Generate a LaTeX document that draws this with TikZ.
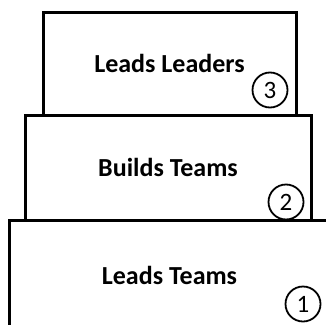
\documentclass[tikz,border=0pt]{standalone}
\usepackage{fontspec}
\setmainfont{Carlito}
\usetikzlibrary{positioning}

\begin{document}
\begin{tikzpicture}[
      x=1pt, y=-1pt,
      /tikz/font=\fontsize{26}{30}\selectfont\bfseries,
      tierbox/.style={draw, line width=3pt, inner sep=0pt, align=center},
      numcirc/.style={draw, circle, line width=1.8pt, minimum size=35pt, inner sep=0pt,
        font=\fontsize{25}{28}\selectfont},
    ]
    \useasboundingbox (0,0) rectangle (326,324);
    \clip (0,0) rectangle (326,324);

    % the three tiers, narrowest on top
    \node[tierbox, minimum width=253pt, minimum height=103pt] (leaders) at (169.5,63.5) {Leads Leaders};
    \node[tierbox, minimum width=286pt, minimum height=105pt] (builds) at (168,167.5) {Builds Teams};
    \node[tierbox, minimum width=320pt, minimum height=110pt] (leads) at (169.5,275) {Leads Teams};

    % level numbers
    \node[numcirc] (n3) at (270,90) {3};
    \node[numcirc] (n2) at (286,202) {2};
    \node[numcirc] (n1) at (303,304) {1};
  \end{tikzpicture}
\end{document}
